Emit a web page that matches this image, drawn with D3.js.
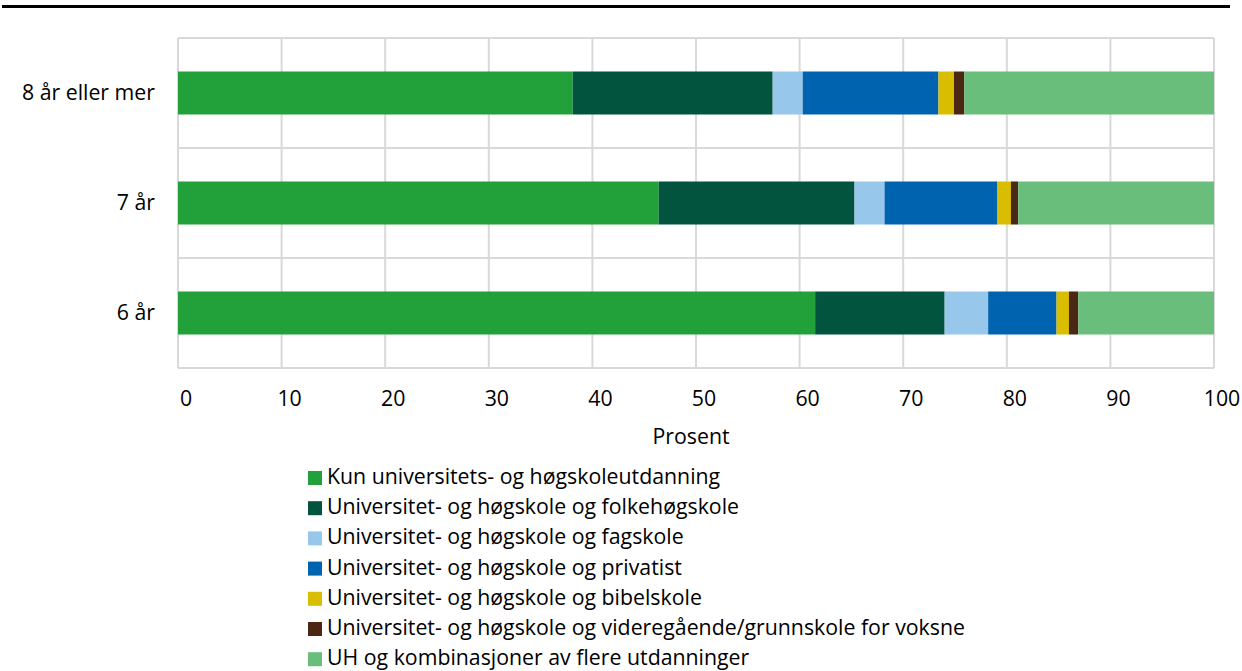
<!DOCTYPE html>
<html>
<head>
<meta charset="utf-8">
<script src="https://cdn.jsdelivr.net/npm/d3@7"></script>
<style>
  body { margin: 0; background: #fff; }
  svg { font-family: "Open Sans", sans-serif; }
</style>
</head>
<body>
<svg id="chart" width="1242" height="671"></svg>
<script>
// Data
const categories = ["8 år eller mer", "7 år", "6 år"];
const seriesNames = [
  "Kun universitets- og høgskoleutdanning",
  "Universitet- og høgskole og folkehøgskole",
  "Universitet- og høgskole og fagskole",
  "Universitet- og høgskole og privatist",
  "Universitet- og høgskole og bibelskole",
  "Universitet- og høgskole og videregående/grunnskole for voksne",
  "UH og kombinasjoner av flere utdanninger"
];
const kunUH = [38.1, 46.4, 61.5];
const folkehogskole = [19.3, 18.9, 12.5];
const fagskole = [2.9, 2.9, 4.2];
const privatist = [13.1, 10.9, 6.6];
const bibelskole = [1.5, 1.3, 1.2];
const videregaende = [1.0, 0.7, 0.9];
const kombinasjoner = [24.1, 18.9, 13.1];
const xTicks = [0, 10, 20, 30, 40, 50, 60, 70, 80, 90, 100];
const colors = ["#22a03a", "#03543f", "#97c8eb", "#0063af", "#d8bd00", "#4b2814", "#69be7b"];

const seriesValues = [kunUH, folkehogskole, fagskole, privatist, bibelskole, videregaende, kombinasjoner];

// build table for stack
const table = categories.map((c, i) => {
  const row = { category: c };
  seriesNames.forEach((s, j) => (row[s] = seriesValues[j][i]));
  return row;
});

const margin = { top: 38, left: 178, right: 28, bottom: 303 };
const width = 1242 - margin.left - margin.right;
const height = 671 - margin.top - margin.bottom;
const fontSize = 21.3;

const svg = d3.select("#chart");

// top rule
svg.append("rect")
  .attr("x", 2).attr("y", 5)
  .attr("width", 1228).attr("height", 3)
  .attr("fill", "#000");

const g = svg.append("g").attr("transform", `translate(${margin.left},${margin.top})`);

const x = d3.scaleLinear().domain([0, 100]).range([0, width]);
const y = d3.scaleBand().domain(categories).range([0, height]);

// grid vertical
g.selectAll(".vgrid")
  .data(xTicks)
  .enter()
  .append("line")
  .attr("x1", (d) => x(d)).attr("x2", (d) => x(d))
  .attr("y1", 0).attr("y2", height)
  .attr("stroke", "#d9d9d9").attr("stroke-width", 2);

// grid horizontal (category band boundaries)
const hLines = [0, ...categories.map((c) => y(c) + y.bandwidth())];
g.selectAll(".hgrid")
  .data(hLines)
  .enter()
  .append("line")
  .attr("x1", 0).attr("x2", width)
  .attr("y1", (d) => d).attr("y2", (d) => d)
  .attr("stroke", "#d9d9d9").attr("stroke-width", 2);

// bars
const stacked = d3.stack().keys(seriesNames)(table);
const barH = 43;

g.selectAll(".series")
  .data(stacked)
  .enter()
  .append("g")
  .attr("fill", (d, i) => colors[i])
  .selectAll("rect")
  .data((d) => d)
  .enter()
  .append("rect")
  .attr("x", (d) => x(d[0]))
  .attr("y", (d) => y(d.data.category) + (y.bandwidth() - barH) / 2)
  .attr("width", (d) => x(d[1]) - x(d[0]))
  .attr("height", barH);

// x axis labels
g.append("g")
  .attr("transform", `translate(0,${height})`)
  .call(d3.axisBottom(x).tickValues(xTicks).tickSize(0).tickPadding(23))
  .call((a) => a.select(".domain").remove())
  .selectAll("text")
  .attr("font-size", fontSize)
  .attr("font-family", "Open Sans, sans-serif")
  .attr("fill", "#000")
  .attr("x", 7.5);

// y axis labels
g.append("g")
  .call(d3.axisLeft(y).tickSize(0).tickPadding(23))
  .call((a) => a.select(".domain").remove())
  .selectAll("text")
  .attr("font-size", fontSize)
  .attr("font-family", "Open Sans, sans-serif")
  .attr("fill", "#000");

// axis title
svg.append("text")
  .attr("x", margin.left + x(50) - 5)
  .attr("y", 444)
  .attr("text-anchor", "middle")
  .attr("font-size", fontSize)
  .attr("fill", "#000")
  .text("Prosent");

// legend
const legend = svg.append("g").attr("transform", "translate(308,484)");
const item = legend.selectAll(".item")
  .data(seriesNames)
  .enter()
  .append("g")
  .attr("transform", (d, i) => `translate(0,${i * 30.2})`);

item.append("rect")
  .attr("width", 14).attr("height", 14)
  .attr("y", -13)
  .attr("fill", (d, i) => colors[i]);

item.append("text")
  .attr("x", 19)
  .attr("y", 0)
  .attr("font-size", fontSize)
  .attr("fill", "#000")
  .text((d) => d);
</script>
</body>
</html>
